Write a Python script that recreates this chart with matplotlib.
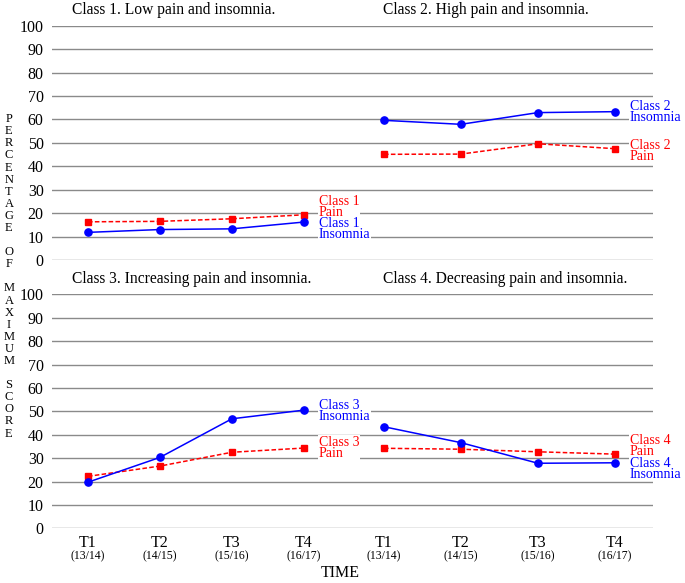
import matplotlib
matplotlib.use("Agg")
import matplotlib.pyplot as plt
import matplotlib.transforms as mtransforms

plt.rcParams["font.family"] = ["Liberation Serif", "DejaVu Serif"]

# Data (percentage of maximum score)
times = ["T1", "T2", "T3", "T4"]
years = ["(13/14)", "(14/15)", "(15/16)", "(16/17)"]

class_titles = [
    "Class 1. Low pain and insomnia.",
    "Class 2. High pain and insomnia.",
    "Class 3. Increasing pain and insomnia.",
    "Class 4. Decreasing pain and insomnia.",
]
pain = [
    [16.3, 16.5, 17.6, 19.3],
    [45.1, 45.2, 49.6, 47.5],
    [22.2, 26.6, 32.5, 34.3],
    [34.2, 33.8, 32.7, 31.7],
]
insomnia = [
    [11.8, 13.0, 13.3, 16.2],
    [59.6, 57.9, 62.9, 63.3],
    [19.7, 30.3, 46.8, 50.5],
    [43.4, 36.6, 27.8, 28.0],
]
# vertical pixel offsets of the end labels (pain, insomnia)
label_shift = [(8, -7), (-2, 0), (0, -1), (8, -6)]

BLUE = "#0000ff"
RED = "#ff0000"
GRID = "#8a8a8a"

fig = plt.figure(figsize=(6.85, 5.83), dpi=100)

# axes rectangles in figure fraction
left_x, left_w = 0.0759, 0.4175
right_x, right_w = 0.4934, 0.4599
top_y, top_h = 0.554, 0.402
bot_y, bot_h = 0.0938, 0.4014
rects = [
    (left_x, top_y, left_w, top_h),
    (right_x, top_y, right_w, top_h),
    (left_x, bot_y, left_w, bot_h),
    (right_x, bot_y, right_w, bot_h),
]
xlims = [(0.5, 4.474), (0.402, 4.495)]
title_x = [0.07, 0.143]

x = [1, 2, 3, 4]
for i, rect in enumerate(rects):
    col = i % 2
    ax = fig.add_axes(rect)
    ax.set_zorder(2 if col == 0 else 1)
    ax.patch.set_facecolor("none")
    ax.set_xlim(*xlims[col])
    ax.set_ylim(0, 100)
    ax.set_yticks(range(0, 101, 10))
    for s in ax.spines.values():
        s.set_visible(False)
    ax.grid(axis="y", color=GRID, linewidth=1)
    ax.set_axisbelow(True)
    ax.tick_params(length=0, labelsize=11.5)
    if col == 0:
        ax.tick_params(axis="y", pad=6)
    else:
        ax.set_yticklabels([])
    if i >= 2:
        ax.set_xticks(x)
        ax.set_xticklabels(times, fontsize=11.5)
        ax.tick_params(axis="x", pad=5)
        tr = mtransforms.blended_transform_factory(ax.transData, ax.transAxes)
        for xi, yr in zip(x, years):
            ax.text(xi, -0.118, yr, transform=tr, ha="center", va="center",
                    fontsize=8.5)
    else:
        ax.set_xticks([])

    ax.plot(x, pain[i], color=RED, linestyle=(0, (3, 1.5)), linewidth=1.1,
            marker="s", markersize=4.3, zorder=3, clip_on=False)
    ax.plot(x, insomnia[i], color=BLUE, linestyle="-", linewidth=1.1,
            marker="o", markersize=5.2, zorder=3, clip_on=False)

    n = i + 1
    dp, di = label_shift[i]
    ax.annotate(f"Class {n}\nPain", xy=(4, pain[i][-1]), xytext=(15, dp),
                textcoords="offset pixels", ha="left", va="center",
                color=RED, fontsize=10, linespacing=0.8, annotation_clip=False,
                bbox=dict(facecolor="white", edgecolor="none", pad=0.5))
    ax.annotate(f"Class {n}\nInsomnia", xy=(4, insomnia[i][-1]), xytext=(15, di),
                textcoords="offset pixels", ha="left", va="center",
                color=BLUE, fontsize=10, linespacing=0.8, annotation_clip=False,
                bbox=dict(facecolor="white", edgecolor="none", pad=0.5))

    ax.text(title_x[col], 1.067, class_titles[i], transform=ax.transAxes,
            ha="left", va="center", fontsize=11.2)

ylabel = "PERCENTAGE OF MAXIMUM SCORE"
fig.text(0.013, 0.526, "\n".join(ylabel), ha="center", va="center",
         fontsize=9, linespacing=1.01)
fig.text(0.496, 0.017, "TIME", ha="center", va="center", fontsize=11.5)

fig.savefig("out.png", dpi=100)
